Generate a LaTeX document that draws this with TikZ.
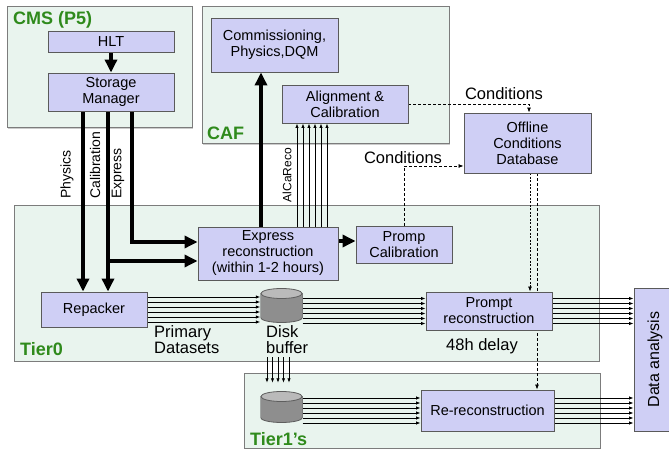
\documentclass[tikz,border=0pt]{standalone}
\usepackage{fontspec}
\setmainfont{Liberation Sans}
\usetikzlibrary{positioning, arrows.meta, calc, shadows}
\definecolor{Lavender} {HTML}{CFCFF5}
\definecolor{BoxEdge}  {HTML}{5A5A5A}
\definecolor{Mint}     {HTML}{E9F4EE}
\definecolor{ZoneEdge} {HTML}{7C7C7C}
\definecolor{SiteGreen}{HTML}{2F8A1C}
\definecolor{DiskBody} {HTML}{8E8E8E}
\definecolor{DiskTop}  {HTML}{BABABA}
\definecolor{DiskEdge} {HTML}{5E5E5E}
\pgfdeclarelayer{zones}
\pgfdeclarelayer{wires}
\pgfsetlayers{zones,wires,main}

\tikzset{
  box/.style={draw=BoxEdge, fill=Lavender, line width=0.9pt, align=center, inner sep=0pt,
    font=\fontsize{14.5}{16}\selectfont,
    drop shadow={shadow xshift=1.2pt, shadow yshift=-1.2pt, fill=black, opacity=0.25}},
  zone/.style={draw=ZoneEdge, fill=Mint, line width=1pt,
    drop shadow={shadow xshift=1.2pt, shadow yshift=-1.2pt, fill=black, opacity=0.2}},
  site/.style={font=\fontsize{18}{20}\selectfont\bfseries, text=SiteGreen, anchor=west, inner sep=0pt},
  tag/.style={font=\fontsize{16.5}{16}\selectfont, inner sep=0pt},
  fat/.style={line width=4pt, -{Triangle[length=13pt,width=12pt]}},
  strand/.style={line width=0.8pt, -{Latex[length=4.5pt,width=3.5pt]}},
  cond/.style={line width=0.8pt, dash pattern=on 3pt off 2pt, -{Latex[length=5pt,width=4pt]}},
  % storage disk: plain node with a cylinder painted inside
  disk/.style={minimum width=42pt, minimum height=35pt, inner sep=0pt,
    path picture={
      \filldraw[fill=DiskBody, draw=DiskEdge, line width=0.8pt]
        ([yshift=-5.5pt]path picture bounding box.north west)
        -- ([yshift=5.5pt]path picture bounding box.south west)
        arc[start angle=180, end angle=360, x radius=21pt, y radius=5pt]
        -- ([yshift=-5.5pt]path picture bounding box.north east) -- cycle;
      \filldraw[fill=DiskTop, draw=DiskEdge, line width=0.8pt]
        ([yshift=-5.5pt]path picture bounding box.north) ellipse[x radius=20.6pt, y radius=5pt];
    }},
}

\begin{document}
\begin{tikzpicture}[x=1pt, y=-1pt]
  \useasboundingbox (0,0) rectangle (669,454);

  % processing steps
  \node[box, minimum width=126pt, minimum height=21pt] (hlt)    at (111,41.5)  {HLT};
  \node[box, minimum width=126pt, minimum height=38pt] (sm)     at (111,92)    {Storage\\Manager};
  \node[box, minimum width=127pt, minimum height=54pt] (comm)   at (274.5,45)  {Commissioning,\\Physics,DQM};
  \node[box, minimum width=126pt, minimum height=38pt] (align)  at (345,104)   {Alignment \&\\Calibration};
  \node[box, minimum width=127pt, minimum height=60pt] (ocdb)   at (527.5,143) {Offline\\Conditions\\Database};
  \node[box, minimum width=140pt, minimum height=53pt] (expr)   at (268,253.5) {Express\\reconstruction\\(within 1-2 hours)};
  \node[box, minimum width=96pt,  minimum height=37pt] (pcal)   at (404,244.5) {Promp\\Calibration};
  \node[box, minimum width=106pt, minimum height=35pt] (repack) at (94,309.5)  {Repacker};
  \node[box, minimum width=126pt, minimum height=38pt] (preco)  at (489,311)   {Prompt\\reconstruction};
  \node[box, minimum width=133pt, minimum height=41pt] (rereco) at (487.5,410.5) {Re-reconstruction};
  \node[box, minimum width=42pt, minimum height=143pt, font=\fontsize{16}{18}\selectfont]
    (ana) at (655,359.5) {\rotatebox{90}{Data analysis}};
  \node[disk] (disk0) at (281.5,305.5) {};
  \node[disk, minimum height=32pt] (disk1) at (281.5,407) {};

  % site names
  \node[site] (cmsname) at (13,20)   {CMS (P5)};
  \node[site] (cafname) at (207,133) {CAF};
  \node[site] (t0name)  at (20,349)  {Tier0};
  \node[site] (t1name)  at (250,439) {Tier1’s};

  % stream and data labels
  \node[tag, rotate=90, anchor=west, font=\fontsize{14}{16}\selectfont] (lphys)  at (67,199)  {Physics};
  \node[tag, rotate=90, anchor=west, font=\fontsize{14}{16}\selectfont] (lcalib) at (95,199)  {Calibration};
  \node[tag, rotate=90, anchor=west, font=\fontsize{14}{16}\selectfont] (lexpr)  at (118,199) {Express};
  \node[tag, rotate=90, font=\fontsize{12}{14}\selectfont] (lalca) at (287,175) {AlCaReco};
  \node[tag, anchor=west, align=left] (prim)  at (154,340) {Primary\\Datasets};
  \node[tag, anchor=west, align=left] (buf)   at (266,340) {Disk\\buffer};
  \node[tag] (delay) at (482,346) {48h delay};
  \node[tag] (cond1) at (504,94)  {Conditions};
  \node[tag] (cond2) at (403,158) {Conditions};

  \begin{pgfonlayer}{zones}
    \path[zone] (7,7) rectangle (192,128);
    \path[zone] (202,7) rectangle (449,144);
    \path[zone] (14,206) rectangle (599,361);
    \path[zone] (244,373) rectangle (600,448);
  \end{pgfonlayer}

  \begin{pgfonlayer}{wires}
    % online streams
    \draw[fat] (hlt.south) -- (sm.north);
    \coordinate (calib) at ([xshift=-3pt]sm.south);
    \draw[fat] ([xshift=-28pt]sm.south) -- ([xshift=-28pt]sm.south |- repack.north);
    \draw[fat] (calib) -- (calib |- repack.north);
    \draw[fat] ([yshift=-7.5pt]expr.west -| calib) -- ([yshift=-7.5pt]expr.west);
    \draw[fat] ([xshift=21pt]sm.south) |- ([yshift=11.5pt]expr.west);
    \draw[fat] ([xshift=-7pt]expr.north) -- ([xshift=-7pt]expr.north |- comm.south);
    \draw[fat] ([yshift=12.5pt]expr.east) -- ([yshift=12.5pt]expr.east -| pcal.west);
    \foreach \dx in {29,35,...,59}
      \draw[strand] ([xshift=\dx pt]expr.north) -- ([xshift=\dx pt]expr.north |- align.south);

    % conditions flow
    \draw[cond] (align.east) -| ([xshift=1.5pt]ocdb.north);
    \draw[cond] (pcal.north) |- ([yshift=-23pt]ocdb.west);
    \draw[cond, dash pattern=on 2pt off 1.5pt] ([xshift=2.5pt]ocdb.south) -- ([xshift=2.5pt]ocdb.south |- preco.north);
    \draw[cond] ([xshift=9.5pt]ocdb.south) -- ([xshift=9.5pt]ocdb.south |- rereco.north);

    % dataset bundles
    \foreach \dy in {-12.5,-7.5,...,12.5} {
      \draw[strand] ([yshift=\dy pt]repack.east) -- ([yshift=\dy pt]repack.east -| disk0.west);
      \draw[strand] ([yshift=\dy pt]preco.west -| disk0.east) -- ([yshift=\dy pt]preco.west);
      \draw[strand] ([yshift=\dy pt]preco.east) -- ([yshift=\dy pt]preco.east -| ana.west);
      \draw[strand] ([yshift=\dy pt]rereco.west -| disk1.east) -- ([yshift=\dy pt]rereco.west);
      \draw[strand] ([yshift=\dy pt]rereco.east) -- ([yshift=\dy pt]rereco.east -| ana.west);
    }
    \foreach \dx in {-14.5,-9,...,7.5}
      \draw[strand] ([xshift=\dx pt, yshift=-34pt]disk0.south) -- ([xshift=\dx pt, yshift=8pt]disk1.north);
  \end{pgfonlayer}
\end{tikzpicture}
\end{document}
